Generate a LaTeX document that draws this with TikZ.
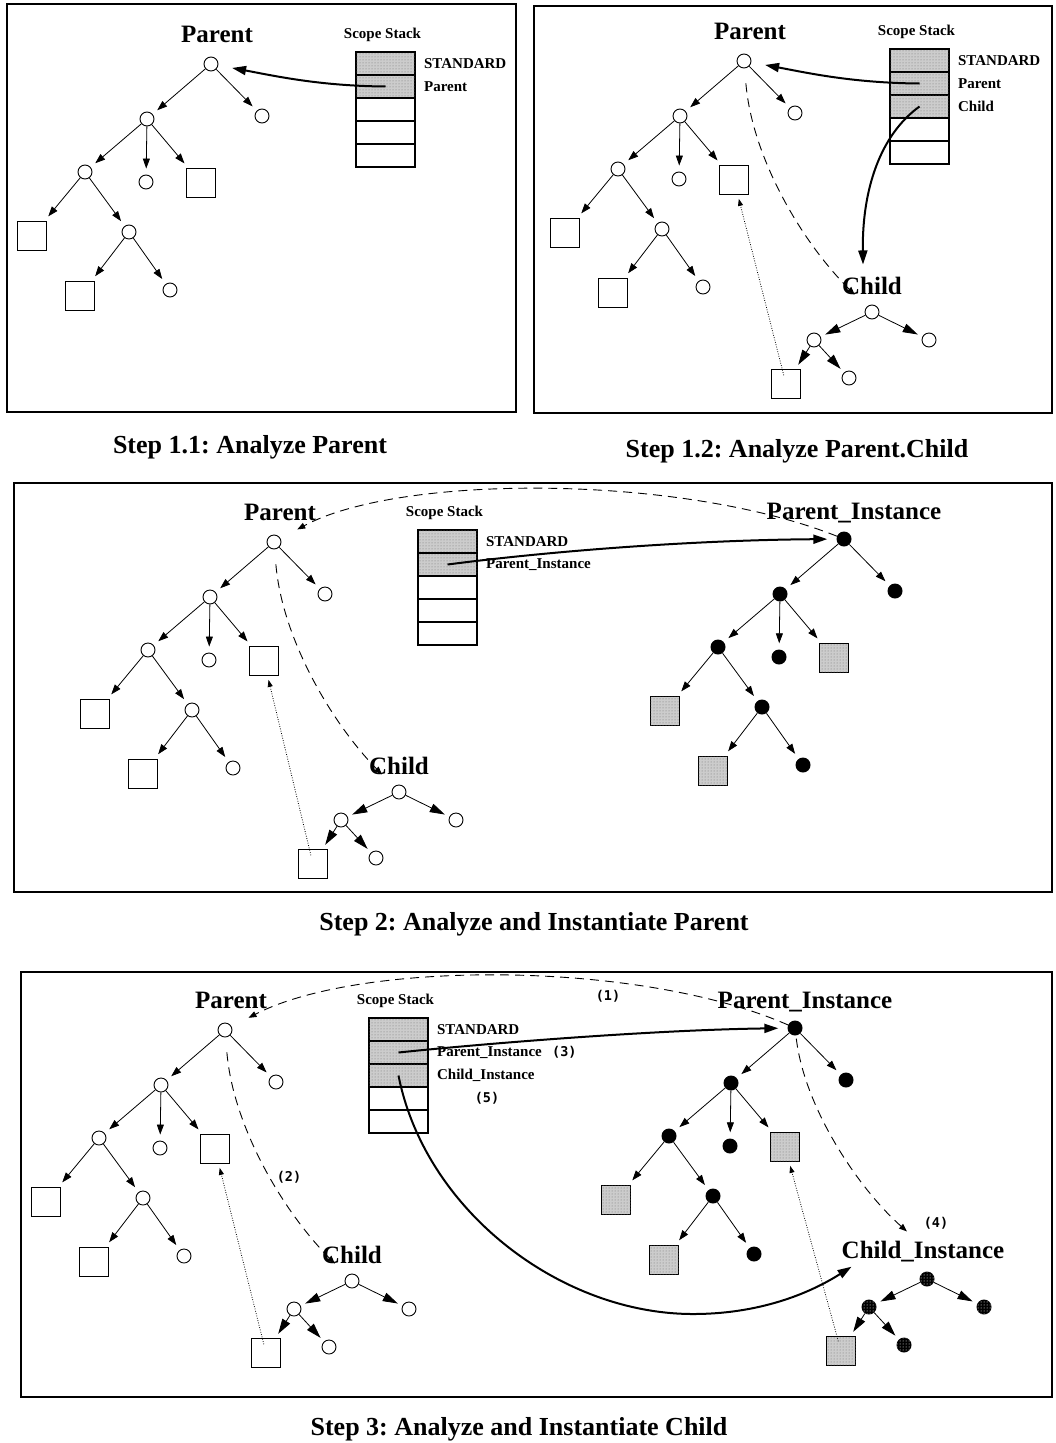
\documentclass[tikz,border=0pt]{standalone}
\usepackage{fontspec}
\setmainfont{Liberation Serif}
\setmonofont{DejaVu Sans Mono}
\usetikzlibrary{arrows.meta,calc,patterns}
\frenchspacing

\tikzset{
  oc/.style={circle, draw, line width=0.9pt, minimum size=14pt, inner sep=0pt, fill=white},
  fc/.style={circle, fill=black, minimum size=15pt, inner sep=0pt},
  dc/.style={circle, fill=black, minimum size=15pt, inner sep=0pt, postaction={pattern=dots, pattern color=white}},
  osq/.style={rectangle, draw, line width=1pt, minimum size=29pt, inner sep=0pt, fill=white},
  fsq/.style={osq, fill=black!20, postaction={pattern=dots, pattern color=black!55}},
  ecell/.style={rectangle, draw, line width=1.8pt, minimum width=59pt, minimum height=23pt, inner sep=0pt, fill=white},
  scell/.style={ecell, fill=black!20, postaction={pattern=dots, pattern color=black!55}},
  tarr/.style={line width=0.8pt, -{Triangle[length=10pt,width=7pt]}, shorten >=6pt},
  carr/.style={line width=0.8pt, -{Triangle[length=15pt,width=9pt]}, shorten >=5pt},
  stk/.style={line width=2pt, -{Triangle[length=14pt,width=9pt]}},
  dsh/.style={line width=0.9pt, dash pattern=on 9pt off 6pt, -{Triangle[length=8pt,width=6pt]}},
  dtt/.style={line width=0.8pt, dash pattern=on 0.8pt off 1.6pt, -{Triangle[length=7pt,width=5pt]}},
  frame/.style={line width=2pt},
  ttl/.style={font=\bfseries\fontsize{25}{30}\selectfont, inner sep=0pt, anchor=base},
  slab/.style={font=\bfseries\fontsize{15}{18}\selectfont, inner sep=0pt},
  capt/.style={font=\bfseries\fontsize{26}{30}\selectfont, inner sep=0pt, anchor=base},
  stepmark/.style={font=\ttfamily\bfseries\fontsize{13.5}{16}\selectfont, inner sep=0pt},
}

% declaration tree: root, right leaf, inner nodes and leaves
\newcommand\ptree[5]{%
  \begin{scope}[shift={(#2,#3)}]
    \node[#4] (#1r) at (0,0) {};
    \node[#4] (#1a) at (51,52) {};
    \node[#4] (#1b) at (-64,55) {};
    \node[#4] (#1c) at (-126,108) {};
    \node[#4] (#1d) at (-65,118) {};
    \node[#5] (#1e) at (-10,119) {};
    \node[#5] (#1f) at (-179,172) {};
    \node[#4] (#1g) at (-82,168) {};
    \node[#5] (#1h) at (-131,232) {};
    \node[#4] (#1i) at (-41,226) {};
  \end{scope}
  \draw[tarr] (#1r) -- (#1a);
  \draw[tarr] (#1r) -- (#1b);
  \draw[tarr] (#1b) -- (#1c);
  \draw[tarr] (#1b) -- (#1d);
  \draw[tarr] (#1b) -- (#1e);
  \draw[tarr] (#1c) -- (#1f);
  \draw[tarr] (#1c) -- (#1g);
  \draw[tarr] (#1g) -- (#1h);
  \draw[tarr] (#1g) -- (#1i);
}

% nested unit tree
\newcommand\ctree[5]{%
  \begin{scope}[shift={(#2,#3)}]
    \node[#4] (#1r) at (0,0) {};
    \node[#4] (#1l) at (-58,28) {};
    \node[#4] (#1x) at (57,28) {};
    \node[#5] (#1s) at (-86,72) {};
    \node[#4] (#1i) at (-23,66) {};
  \end{scope}
  \draw[carr] (#1r) -- (#1l);
  \draw[carr] (#1r) -- (#1x);
  \draw[carr] (#1l) -- (#1s);
  \draw[carr] (#1l) -- (#1i);
}

% scope stack of five cells, the first #4 of them shaded
\newcommand\sstack[4]{%
  \foreach \k in {1,...,5}{%
    \ifnum\k>#4\relax
      \node[ecell] (#1\k) at (#2+29.5,{#3+11.5+23*(\k-1)}) {};
    \else
      \node[scell] (#1\k) at (#2+29.5,{#3+11.5+23*(\k-1)}) {};
    \fi
  }
  \node[slab, anchor=base] (#1l) at ($(#11.north)+(-3,-13)$) {Scope Stack};
}

\begin{document}
\begin{tikzpicture}[x=1pt,y=-1pt]
\fill[white] (0,0) rectangle (1055,1443);
\useasboundingbox (0,0) rectangle (1055,1443);

% ---------------- Step 1.1 ----------------
\draw[frame] (7,4) rectangle (516,412);
\ptree{a}{211}{64}{oc}{osq}
\sstack{as}{356}{52}{2}
\node[slab, anchor=west] (at1) at ($(as1.east)+(8,0)$) {STANDARD};
\node[slab, anchor=west] (at2) at ($(as2.east)+(8,0)$) {Parent};
\node[ttl] (att) at ($(ar)+(6,-22)$) {Parent};
\draw[stk, shorten >=14pt] (as2.center) .. controls (320,86) and (275,76) .. (ar);
\node[capt] (acap) at (250,453) {Step 1.1: Analyze Parent};

% ---------------- Step 1.2 ----------------
\draw[frame] (534,6) rectangle (1052,413);
\ptree{b}{744}{61}{oc}{osq}
\ctree{bk}{872}{312}{oc}{osq}
\sstack{bs}{890}{49}{3}
\node[slab, anchor=west] (bt1) at ($(bs1.east)+(8,0)$) {STANDARD};
\node[slab, anchor=west] (bt2) at ($(bs2.east)+(8,0)$) {Parent};
\node[slab, anchor=west] (bt3) at ($(bs3.east)+(8,0)$) {Child};
\node[ttl] (btt) at ($(br)+(6,-22)$) {Parent};
\node[ttl] (bkt) at ($(bkr)+(0,-18)$) {Child};
\draw[stk, shorten >=14pt] (bs2.center) .. controls (853,83) and (808,73) .. (br);
\draw[stk] (bs3.center) .. controls (880,135) and (862,190) .. ($(bkt.north)+(-9,-12)$);
\draw[dsh, shorten <=15pt, shorten >=17pt] (br) .. controls ($(br)+(8,95)$) and ($(br)+(56,179)$) .. (bkr);
\draw[dtt, shorten <=9pt, shorten >=4pt] (bks.center) -- (be);
\node[capt] (bcap) at (797,457) {Step 1.2: Analyze Parent.Child};

% ---------------- Step 2 ----------------
\draw[frame] (14,483) rectangle (1052,892);
\ptree{c}{274}{542}{oc}{osq}
\ctree{ck}{399}{792}{oc}{osq}
\ptree{cm}{844}{539}{fc}{fsq}
\sstack{cs}{418}{530}{2}
\node[slab, anchor=west] (ct1) at ($(cs1.east)+(8,0)$) {STANDARD};
\node[slab, anchor=west] (ct2) at ($(cs2.east)+(8,0)$) {Parent\_Instance};
\node[ttl] (ctt) at ($(cr)+(6,-22)$) {Parent};
\node[ttl] (ckt) at ($(ckr)+(0,-18)$) {Child};
\node[ttl] (cmt) at ($(cmr)+(10,-20)$) {Parent\_Instance};
\draw[dsh, shorten >=19pt] (cmr) .. controls (680,474) and (400,474) .. (cr);
\draw[stk, shorten >=9pt] (cs2.center) .. controls (560,550) and (700,540) .. (cmr);
\draw[dsh, shorten <=15pt, shorten >=17pt] (cr) .. controls ($(cr)+(8,95)$) and ($(cr)+(56,179)$) .. (ckr);
\draw[dtt, shorten <=9pt, shorten >=4pt] (cks.center) -- (ce);
\node[capt] (ccap) at (534,930) {Step 2: Analyze and Instantiate Parent};

% ---------------- Step 3 ----------------
\draw[frame] (21,972) rectangle (1052,1397);
\ptree{d}{225}{1030}{oc}{osq}
\ctree{dk}{352}{1281}{oc}{osq}
\ptree{dm}{795}{1028}{fc}{fsq}
\ctree{dn}{927}{1279}{dc}{fsq}
\sstack{ds}{369}{1018}{3}
\node[slab, anchor=west] (dt1) at ($(ds1.east)+(8,0)$) {STANDARD};
\node[slab, anchor=west] (dt2) at ($(ds2.east)+(8,0)$) {Parent\_Instance};
\node[slab, anchor=west] (dt3) at ($(ds3.east)+(8,0)$) {Child\_Instance};
\node[ttl] (dtt) at ($(dr)+(6,-22)$) {Parent};
\node[ttl] (dkt) at ($(dkr)+(0,-18)$) {Child};
\node[ttl] (dmt) at ($(dmr)+(10,-20)$) {Parent\_Instance};
\node[ttl] (dnt) at ($(dnr)+(-4,-21)$) {Child\_Instance};
\node[stepmark] (m1) at (608,996) {(1)};
\node[stepmark] (m2) at (289,1177) {(2)};
\node[stepmark, anchor=west] (m3) at ($(dt2.east)+(10,0)$) {(3)};
\node[stepmark] (m4) at (936,1223) {(4)};
\node[stepmark] (m5) at (487,1098) {(5)};
\draw[dsh, shorten >=19pt] (dmr) .. controls (640,960) and (360,960) .. (dr);
\draw[stk, shorten >=9pt] (ds2.center) .. controls (480,1044) and (650,1030) .. (dmr);
\draw[dsh, shorten <=15pt, shorten >=17pt] (dr) .. controls ($(dr)+(8,95)$) and ($(dr)+(56,179)$) .. (dkr);
\draw[dtt, shorten <=9pt, shorten >=4pt] (dks.center) -- (de);
\draw[dsh, shorten <=3pt] (dmr) .. controls (805,1110) and (860,1190) .. ($(dnt.north)+(-16,-9)$);
\draw[dtt, shorten <=10pt, shorten >=4pt] (dns.center) -- (dme);
\draw[stk] (ds3.center) .. controls (425,1210) and (560,1314) .. (693,1314)
  .. controls (765,1314) and (815,1290) .. ($(dnt.south west)+(10,5)$);
\node[capt] (dcap) at (519,1435) {Step 3: Analyze and Instantiate Child};
\end{tikzpicture}
\end{document}
